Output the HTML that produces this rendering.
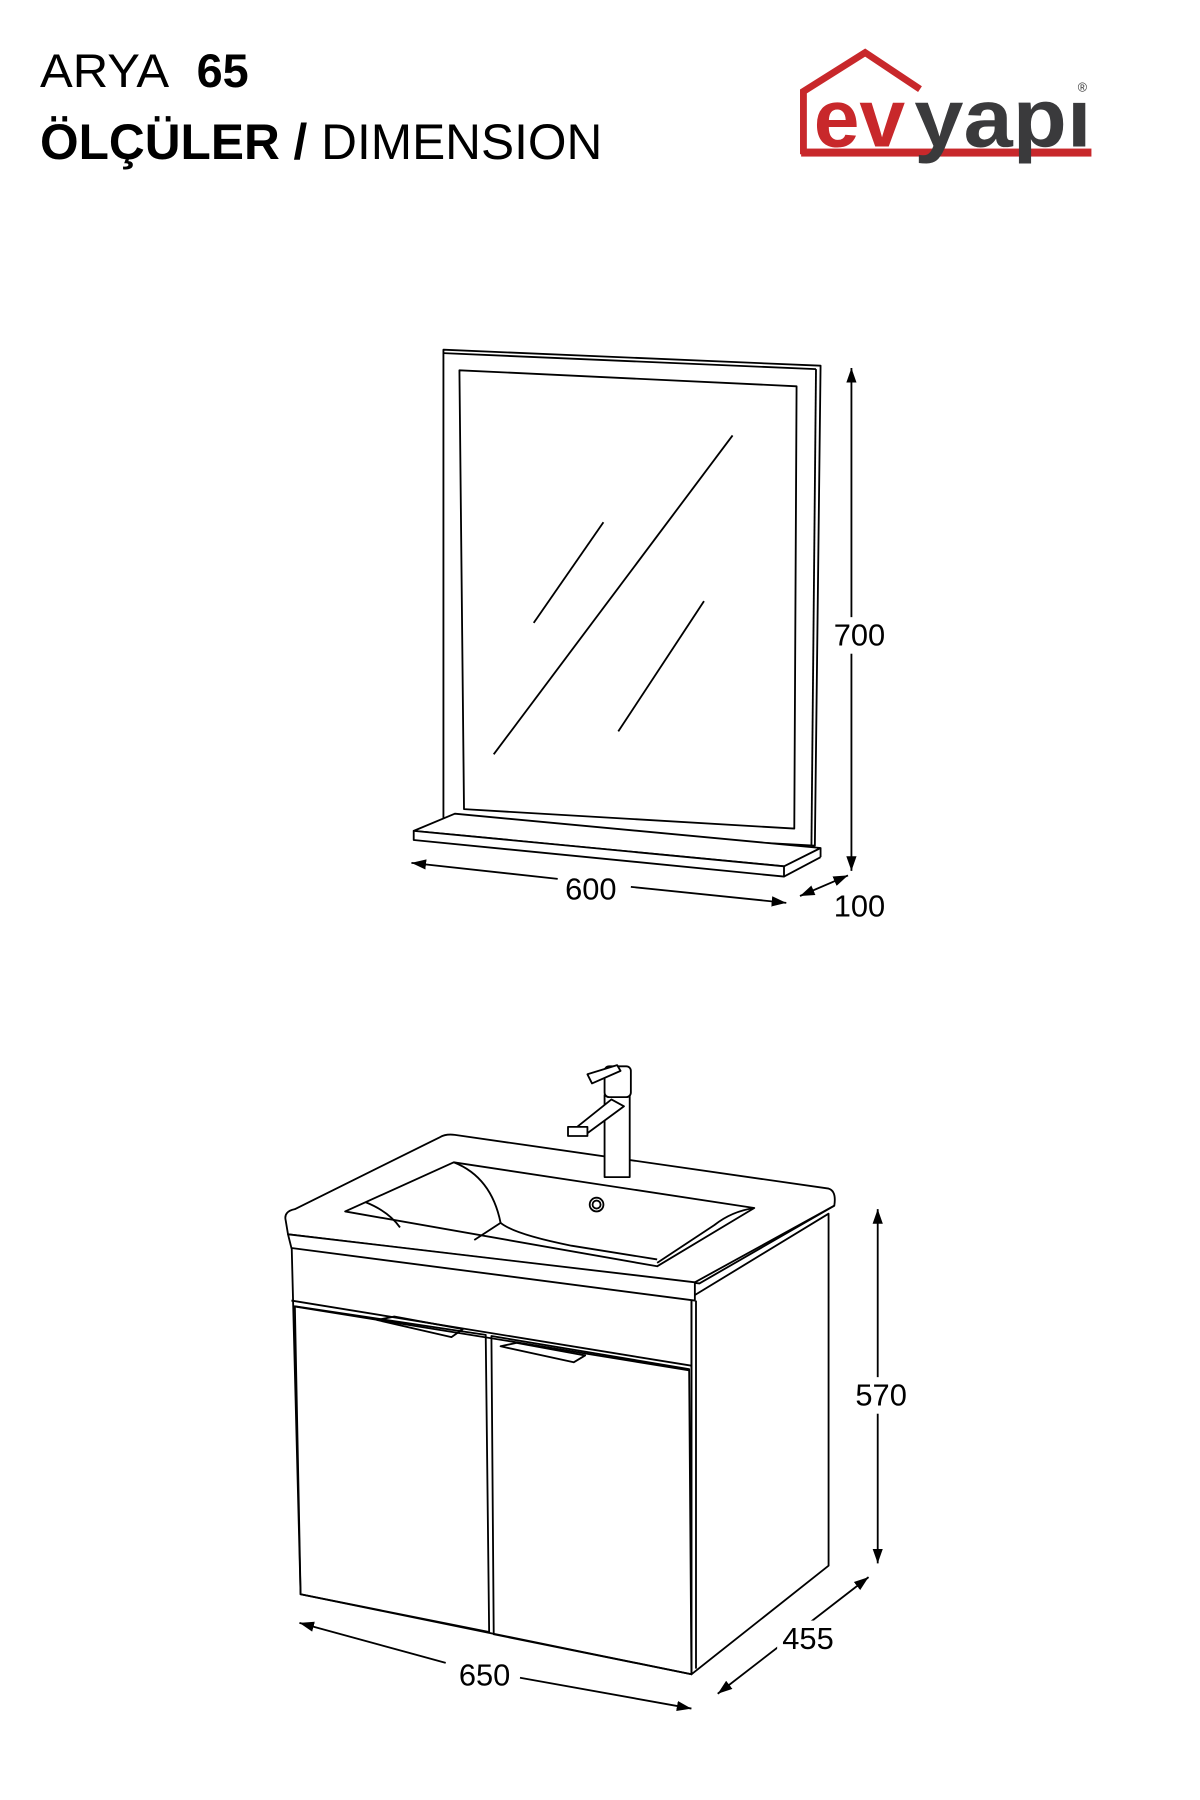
<!DOCTYPE html>
<html><head><meta charset="utf-8"><style>html,body{margin:0;padding:0;background:#fff}svg{display:block}</style></head>
<body>
<svg width="1200" height="1800" viewBox="0 0 1050 1575" xmlns="http://www.w3.org/2000/svg">
<defs><marker id="a" viewBox="0 0 10 10" refX="10" refY="5" markerWidth="8" markerHeight="8" orient="auto-start-reverse"><path d="M0,1.5 L10,5 L0,8.5z" fill="#000"/></marker></defs>
<rect width="1050" height="1575" fill="#fff"/>
<g font-family="Liberation Sans, sans-serif" fill="#000">
<text x="35" y="76" font-size="41" textLength="113" lengthAdjust="spacingAndGlyphs">ARYA</text>
<text x="172" y="76" font-size="41" font-weight="bold">65</text>
<text x="35" y="139" font-size="44" textLength="492" lengthAdjust="spacingAndGlyphs"><tspan font-weight="bold">ÖLÇÜLER /</tspan> DIMENSION</text>
</g>
<g>
<polyline points="703,135 703,80 757,46 805,78" fill="none" stroke="#c8282b" stroke-width="6"/>
<rect x="701" y="130" width="254" height="7" fill="#c8282b"/>
<text x="712" y="128" font-family="Liberation Sans, sans-serif" font-weight="bold" font-size="72" fill="#c8282b" textLength="80" lengthAdjust="spacingAndGlyphs">ev</text>
<text x="800" y="128" font-family="Liberation Sans, sans-serif" font-weight="bold" font-size="72" fill="#3a3a3c" textLength="155" lengthAdjust="spacingAndGlyphs">yapı</text>
<text x="943" y="80" font-family="Liberation Sans, sans-serif" font-size="11" fill="#333">®</text>
</g>
<g fill="none" stroke="#000" stroke-width="1.6" stroke-linejoin="round">
<polygon points="388,306 718,320 713,740 388,722"/>
<line x1="388" y1="309" x2="714" y2="323"/>
<line x1="714" y1="323" x2="710" y2="740"/>
<polygon points="402,324 697,338 695,725 406,708"/>
<line x1="467" y1="545" x2="528" y2="457"/>
<line x1="432" y1="660" x2="641" y2="381"/>
<line x1="541" y1="640" x2="616" y2="526"/>
<polygon points="362,727 398,712 718,742 686,758" fill="#fff"/>
<polygon points="362,727 686,758 686,767 362,735" fill="#fff"/>
<line x1="686" y1="767" x2="718" y2="750"/><line x1="718" y1="742" x2="718" y2="750"/>
<line x1="745" y1="322" x2="745" y2="762" marker-start="url(#a)" marker-end="url(#a)"/>
<line x1="360" y1="755" x2="488" y2="769" marker-start="url(#a)"/>
<line x1="552" y1="776" x2="688" y2="790" marker-end="url(#a)"/>
<line x1="700" y1="784" x2="742" y2="766" marker-start="url(#a)" marker-end="url(#a)"/>
<polygon points="255,1082 605,1135 605,1465 263,1395"/>
<polygon points="605,1135 725,1062 725,1370 605,1465"/>
<line x1="609" y1="1138" x2="609" y2="1460"/>
<line x1="255" y1="1138" x2="605" y2="1195"/>
<line x1="257" y1="1143" x2="603" y2="1199"/>
<polygon points="258,1143 425,1168 428,1428 263,1395"/>
<polygon points="430,1169 603,1198 605,1465 432,1430"/>
<polygon points="330,1155 345,1152 405,1163 395,1170"/>
<polygon points="438,1178 452,1175 512,1186 502,1192"/>
<path d="M250,1068 Q248,1060 258,1058 L385,995 Q390,992 398,993 L725,1040 Q732,1042 730,1055 L612,1123 L252,1080 Z" fill="#fff"/>
<polygon points="252,1080 608,1122 608,1138 255,1092" fill="#fff"/>
<line x1="608" y1="1122" x2="730" y2="1055"/>
<polygon points="302,1060 397,1017 660,1057 575,1108" />
<path d="M397,1017 Q430,1030 438,1070 L415,1085"/>
<path d="M320,1052 Q340,1060 350,1074"/>
<path d="M438,1070 Q450,1080 500,1090 L575,1102"/>
<path d="M660,1057 Q640,1060 625,1072 L575,1105"/>
<circle cx="522" cy="1054" r="6"/><circle cx="522" cy="1054" r="3.5"/>
<rect x="529" y="958" width="22" height="72" fill="#fff"/>
<rect x="529" y="933" width="23" height="27" rx="4" fill="#fff"/>
<polygon points="514,940 540,932 543,937 518,948" fill="#fff"/>
<polygon points="535,962 546,968 512,993 500,990" fill="#fff"/>
<rect x="497" y="986" width="17" height="8" fill="#fff"/>
<line x1="768" y1="1058" x2="768" y2="1368" marker-start="url(#a)" marker-end="url(#a)"/>
<line x1="262" y1="1420" x2="390" y2="1455" marker-start="url(#a)"/>
<line x1="455" y1="1468" x2="605" y2="1495" marker-end="url(#a)"/>
<line x1="628" y1="1482" x2="760" y2="1380" marker-start="url(#a)" marker-end="url(#a)"/>
</g>
<g fill="#fff">
<rect x="725" y="540" width="54" height="32"/>
<rect x="744" y="1205" width="54" height="32"/>
<rect x="680" y="1418" width="54" height="30"/>
</g>
<g font-family="Liberation Sans, sans-serif" font-size="27" fill="#000" text-anchor="middle">
<text x="752" y="565">700</text>
<text x="517" y="787">600</text>
<text x="752" y="802">100</text>
<text x="771" y="1230">570</text>
<text x="424" y="1475">650</text>
<text x="707" y="1443">455</text>
</g>
</svg>
</body></html>
